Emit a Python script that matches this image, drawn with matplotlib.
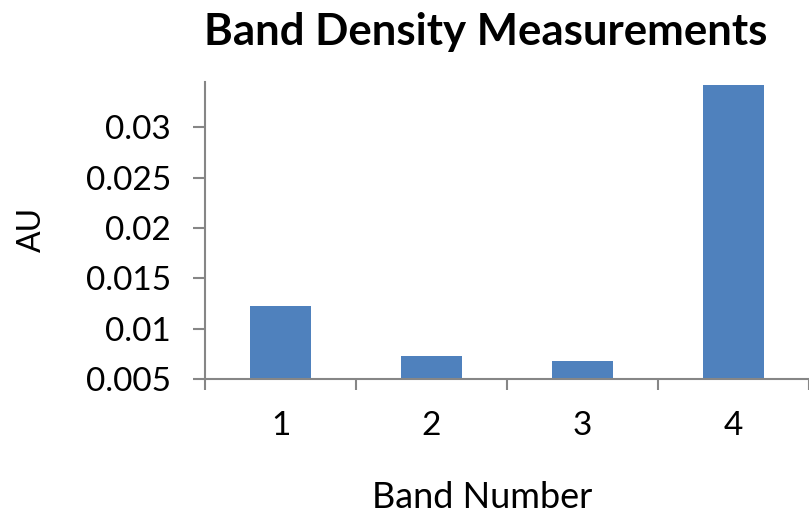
import matplotlib
matplotlib.use("Agg")
import matplotlib.pyplot as plt

bands = [1, 2, 3, 4]
band_labels = ["1", "2", "3", "4"]
au_values = [0.01226, 0.00732, 0.00679, 0.03415]
y_ticks = [0.005, 0.01, 0.015, 0.02, 0.025, 0.03]
y_tick_labels = ["0.005", "0.01", "0.015", "0.02", "0.025", "0.03"]

plt.rcParams["font.family"] = ["Lato", "DejaVu Sans"]

fig = plt.figure(figsize=(8.09, 5.13), dpi=100)
# plot area placed to line up with the excel chart
ax = fig.add_axes([205 / 809, 133.7 / 513, 604 / 809, 297.6 / 513])

axis_grey = "#868686"
ax.bar(bands, [v - 0.005 for v in au_values], bottom=0.005, width=0.4, color="#4F81BD")

ax.set_xlim(0.5, 4.5)
ax.set_ylim(0.005, 0.0345)

ax.set_yticks(y_ticks)
ax.set_yticklabels(y_tick_labels, fontsize=24)
ax.set_xticks(bands)
ax.set_xticklabels(band_labels, fontsize=24)
ax.set_xticks([0.5, 1.5, 2.5, 3.5, 4.5], minor=True)

ax.tick_params(axis="y", which="major", length=8.6, width=1.5, color=axis_grey, pad=16)
ax.tick_params(axis="x", which="major", length=0, pad=22.5)
ax.tick_params(axis="x", which="minor", length=8.2, width=1.5, color=axis_grey)

for side in ["top", "right"]:
    ax.spines[side].set_visible(False)
for side in ["left", "bottom"]:
    ax.spines[side].set_color(axis_grey)
    ax.spines[side].set_linewidth(1.5)

ax.set_ylabel("AU", fontsize=23)
ax.yaxis.set_label_coords(-0.262, 0.502)
ax.set_xlabel("Band Number", fontsize=26)
ax.xaxis.set_label_coords(0.459, -0.342)

fig.text(486 / 809, 1 - 45 / 513, "Band Density Measurements", fontsize=31.5,
         fontweight="bold", ha="center", va="baseline")

fig.savefig("out.png", dpi=100)
